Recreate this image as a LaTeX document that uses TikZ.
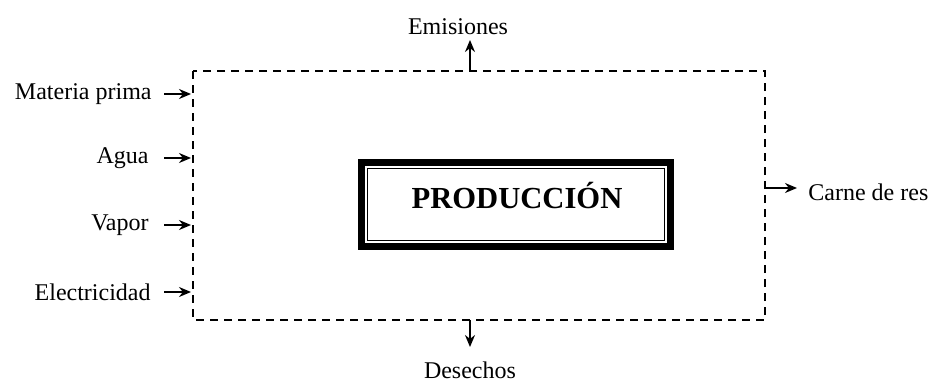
\documentclass[tikz,border=0pt]{standalone}
\usepackage{fontspec}
\setmainfont{Liberation Serif}
\usetikzlibrary{arrows.meta}
\begin{document}
\begin{tikzpicture}[x=0.5pt,y=-0.5pt,
  lbl/.style={font=\fontsize{12}{14}\selectfont, inner sep=0pt},
  flow/.style={line width=0.8pt, -{Stealth[length=6pt,width=5pt]}},
  boundary/.style={line width=1pt, dash pattern=on 4pt off 3pt}]
\useasboundingbox (0,0) rectangle (934,381);
\fill[white] (0,0) rectangle (934,381);
% system boundary
\draw[boundary] (193,71) rectangle (765,320);
% central box
\node[draw, line width=3pt, minimum width=155pt, minimum height=42.5pt, inner sep=0pt] (prod) at (516,204.5) {};
\draw[line width=0.5pt, double, double distance=1.1pt] ([shift={(3.9pt,-3.9pt)}]prod.north west) rectangle ([shift={(-3.9pt,3.9pt)}]prod.south east);
\node[font=\fontsize{15.3}{17}\selectfont\bfseries] at (517,196) {PRODUCCIÓN};
% inputs
\node[lbl, anchor=east] (mp) at (152,94) {Materia prima};
\node[lbl, anchor=east] (ag) at (149,158) {Agua};
\node[lbl, anchor=east] (va) at (149,225) {Vapor};
\node[lbl, anchor=east] (el) at (151,292) {Electricidad};
\coordinate (mpE) at (191,94);
\coordinate (agE) at (191,158);
\coordinate (vaE) at (191,225);
\coordinate (elE) at (191,292);
\draw[flow] ([xshift=6pt]mp.east) -- (mpE);
\draw[flow] ([xshift=7.5pt]ag.east) -- (agE);
\draw[flow] ([xshift=7.5pt]va.east) -- (vaE);
\draw[flow] ([xshift=6.5pt]el.east) -- (elE);
% emisiones
\node[lbl] (em) at (458,27) {Emisiones};
\coordinate (emS) at (470,71);
\draw[flow] (emS) -- (470,40);
% desechos
\node[lbl] (de) at (470,370) {Desechos};
\coordinate (deS) at (470,320);
\draw[flow] (deS) -- (470,347);
% carne de res
\node[lbl, anchor=west] (cr) at (808,192) {Carne de res};
\coordinate (crS) at (765,188);
\draw[line width=0.8pt] (765,181) -- (crS);
\draw[flow] (crS) -- (797,188);
\end{tikzpicture}
\end{document}
